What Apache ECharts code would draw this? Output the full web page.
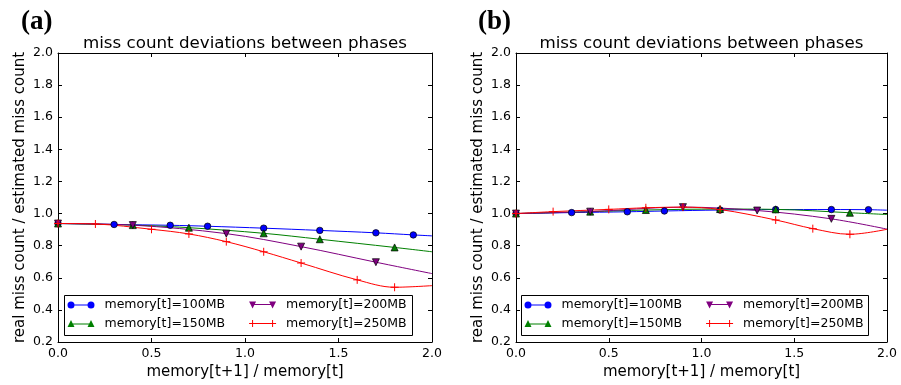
<!DOCTYPE html>
<html><head><meta charset="utf-8">
<script src="https://cdn.jsdelivr.net/npm/echarts@6/dist/echarts.min.js"></script>
<style>html,body{margin:0;padding:0;background:#fff}#c{width:901px;height:385px}</style>
</head><body><div id="c"></div>
<script>
const seriesNames = ['memory[t]=100MB', 'memory[t]=150MB', 'memory[t]=200MB', 'memory[t]=250MB'];
const panelLabels = ['(a)', '(b)'];
const chartTitle = 'miss count deviations between phases';
const xName = 'memory[t+1] / memory[t]';
const yName = 'real miss count / estimated miss count';

// panel (a)
const a100X = [0, 0.3, 0.6, 0.8, 1.1, 1.4, 1.7, 1.9, 2.0];
const a100Y = [0.938, 0.932, 0.927, 0.921, 0.909, 0.895, 0.880, 0.867, 0.861];
const a150X = [0, 0.4, 0.7, 1.1, 1.4, 1.8, 2.0];
const a150Y = [0.938, 0.928, 0.912, 0.877, 0.840, 0.789, 0.762];
const a200X = [0, 0.4, 0.9, 1.3, 1.7, 2.0];
const a200Y = [0.938, 0.928, 0.875, 0.794, 0.697, 0.626];
const a250X = [0, 0.2, 0.5, 0.7, 0.9, 1.1, 1.3, 1.6, 1.8, 2.0];
const a250Y = [0.938, 0.935, 0.902, 0.873, 0.825, 0.762, 0.692, 0.587, 0.541, 0.551];

// panel (b)
const b100X = [0, 0.3, 0.6, 0.8, 1.1, 1.4, 1.7, 1.9, 2.0];
const b100Y = [1.0, 1.006, 1.011, 1.016, 1.022, 1.025, 1.025, 1.024, 1.021];
const b150X = [0, 0.4, 0.7, 1.1, 1.4, 1.8, 2.0];
const b150Y = [1.0, 1.012, 1.022, 1.028, 1.026, 1.005, 0.994];
const b200X = [0, 0.4, 0.9, 1.3, 1.7, 2.0];
const b200Y = [1.0, 1.012, 1.040, 1.019, 0.967, 0.903];
const b250X = [0, 0.2, 0.5, 0.7, 0.9, 1.1, 1.4, 1.6, 1.8, 2.0];
const b250Y = [1.0, 1.012, 1.026, 1.036, 1.040, 1.025, 0.960, 0.906, 0.871, 0.902];

const FONT = 'DejaVu Sans';
const colors = ['#0000ff', '#008000', '#800080', '#ff0000'];
const PLUS = 'path://M0,5L10,5M5,0L5,10';
const markerDefs = [
  {symbol: 'circle', size: 6.5, rotate: 0},
  {symbol: 'triangle', size: 7, rotate: 0},
  {symbol: 'triangle', size: 7, rotate: 180},
  {symbol: PLUS, size: 8, rotate: 0}
];
const legendIcons = [
  'path://M0,3.5A3.5,3.5,0,1,1,7,3.5A3.5,3.5,0,1,1,0,3.5Z M3.5,3L23.5,3L23.5,4L3.5,4Z M20,3.5A3.5,3.5,0,1,1,27,3.5A3.5,3.5,0,1,1,20,3.5Z',
  'path://M3.5,0L7,7L0,7Z M3.5,3.5L23.5,3.5L23.5,4.5L3.5,4.5Z M23.5,0L27,7L20,7Z',
  'path://M0,0L7,0L3.5,7Z M3.5,2.5L23.5,2.5L23.5,3.5L3.5,3.5Z M20,0L27,0L23.5,7Z',
  'path://M0,3L27,3L27,4L0,4Z M3,0L4,0L4,7L3,7Z M23,0L24,0L24,7L23,7Z'
];

const panels = [
  {xs: [a100X, a150X, a200X, a250X], ys: [a100Y, a150Y, a200Y, a250Y]},
  {xs: [b100X, b150X, b200X, b250X], ys: [b100Y, b150Y, b200Y, b250Y]}
];
const grids = [
  {left: 58, top: 53, width: 374, height: 289},
  {left: 516, top: 53, width: 371, height: 289}
];

const xAxes = [], yAxes = [], series = [], legends = [], graphics = [];
grids.forEach((g, gi) => {
  const axLine = {show: true, onZero: false, lineStyle: {color: '#000', width: 1}};
  const tick = {show: true, inside: true, length: 4, lineStyle: {color: '#000', width: 1}};
  xAxes.push({
    gridIndex: gi, type: 'value', min: 0, max: 2, interval: 0.5, position: 'bottom',
    axisLine: axLine, axisTick: tick, splitLine: {show: false},
    axisLabel: {color: '#000', fontFamily: FONT, fontSize: 12.5, margin: 5, formatter: v => v.toFixed(1)},
    name: xName, nameLocation: 'middle', nameGap: 23,
    nameTextStyle: {color: '#000', fontFamily: FONT, fontSize: 15}
  });
  xAxes.push({
    gridIndex: gi, type: 'value', min: 0, max: 2, interval: 0.5, position: 'top',
    axisLine: axLine, axisTick: tick, splitLine: {show: false}, axisLabel: {show: false}
  });
  yAxes.push({
    gridIndex: gi, type: 'value', min: 0.2, max: 2.0, interval: 0.2, position: 'left',
    axisLine: axLine, axisTick: tick, splitLine: {show: false},
    axisLabel: {color: '#000', fontFamily: FONT, fontSize: 12.5, margin: 5, formatter: v => v.toFixed(1)},
    name: yName, nameLocation: 'middle', nameGap: 30,
    nameTextStyle: {color: '#000', fontFamily: FONT, fontSize: 15}
  });
  yAxes.push({
    gridIndex: gi, type: 'value', min: 0.2, max: 2.0, interval: 0.2, position: 'right',
    axisLine: axLine, axisTick: tick, splitLine: {show: false}, axisLabel: {show: false}
  });

  const p = panels[gi];
  seriesNames.forEach((name, si) => {
    const m = markerDefs[si];
    const data = p.xs[si].map((x, i) => x === 2 ? {value: [x, p.ys[si][i]], symbol: 'none'} : [x, p.ys[si][i]]);
    series.push({
      type: 'line', name: name, xAxisIndex: gi * 2, yAxisIndex: gi * 2,
      data: data, smooth: 0.35, showAllSymbol: true,
      symbol: m.symbol, symbolSize: m.size, symbolRotate: m.rotate,
      lineStyle: {color: colors[si], width: 1},
      itemStyle: si === 3 ? {color: 'none', borderColor: colors[si], borderWidth: 1}
                          : {color: colors[si], borderColor: '#000', borderWidth: 0.7},
      emphasis: {disabled: true}, animation: false, z: 2
    });
  });

  const boxLeft = gi === 0 ? 64 : 521;
  const boxWidth = gi === 0 ? 348 : 347;
  graphics.push({type: 'rect', z: 50, shape: {x: boxLeft + 0.5, y: 295.5, width: boxWidth, height: 40},
    style: {fill: '#fff', stroke: '#000', lineWidth: 1}});
  const rows = [[0, 2], [1, 3]];
  rows.forEach((row, ri) => {
    legends.push({
      z: 60, left: boxLeft + 3.5, top: ri === 0 ? 298.5 : 317, orient: 'horizontal',
      itemWidth: 27, itemHeight: 7, itemGap: 24, padding: 0, selectedMode: false,
      textStyle: {color: '#000', fontFamily: FONT, fontSize: 12.5, padding: [0, 0, 0, 5]},
      data: row.map(si => ({name: seriesNames[si], icon: legendIcons[si],
        itemStyle: {color: colors[si], borderWidth: 0}}))
    });
  });

  const cx = g.left + g.width / 2;
  graphics.push({type: 'text', x: cx, y: 43.5, z: 50,
    style: {text: chartTitle, fill: '#000', font: '16.7px "DejaVu Sans"', align: 'center', verticalAlign: 'middle'}});
  graphics.push({type: 'text', x: gi === 0 ? 21 : 478, y: 22, z: 50,
    style: {text: panelLabels[gi], fill: '#000', font: 'bold 27px "Liberation Serif"', align: 'left', verticalAlign: 'middle'}});
});

const chart = echarts.init(document.getElementById('c'), null, {renderer: 'canvas'});
chart.setOption({
  animation: false,
  backgroundColor: '#fff',
  grid: grids,
  xAxis: xAxes,
  yAxis: yAxes,
  legend: legends,
  series: series,
  graphic: graphics
});
</script>
</body></html>
